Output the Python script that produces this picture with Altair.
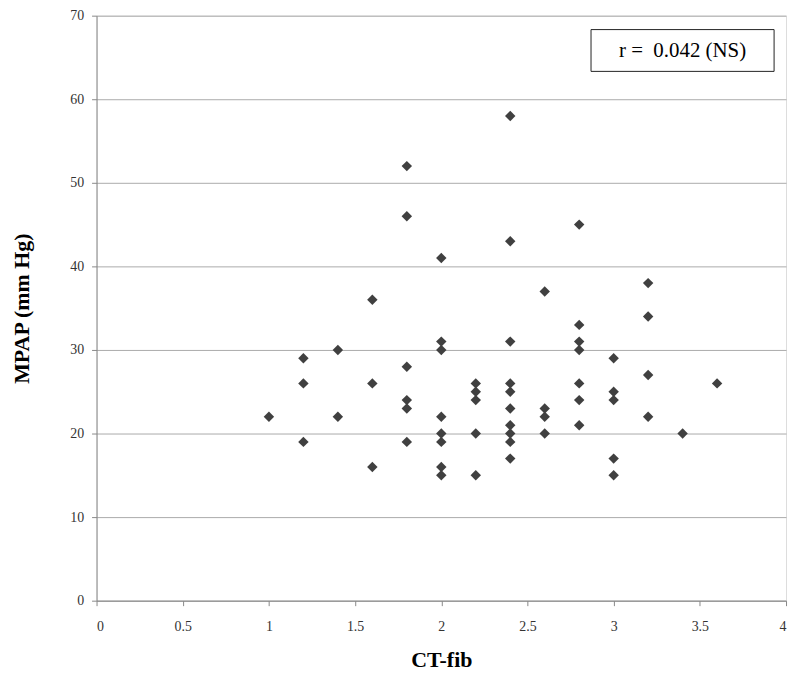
import altair as alt
import pandas as pd

ct_fib = [1.0,
          1.2, 1.2, 1.2,
          1.4, 1.4,
          1.6, 1.6, 1.6,
          1.8, 1.8, 1.8, 1.8, 1.8, 1.8,
          2.0, 2.0, 2.0, 2.0, 2.0, 2.0, 2.0, 2.0,
          2.2, 2.2, 2.2, 2.2, 2.2,
          2.4, 2.4, 2.4, 2.4, 2.4, 2.4, 2.4, 2.4, 2.4, 2.4,
          2.6, 2.6, 2.6, 2.6,
          2.8, 2.8, 2.8, 2.8, 2.8, 2.8, 2.8,
          3.0, 3.0, 3.0, 3.0, 3.0,
          3.2, 3.2, 3.2, 3.2,
          3.4,
          3.6]
mpap = [22,
        29, 26, 19,
        30, 22,
        36, 26, 16,
        52, 46, 28, 24, 23, 19,
        41, 31, 30, 22, 20, 19, 16, 15,
        26, 25, 24, 20, 15,
        58, 43, 31, 26, 25, 23, 21, 20, 19, 17,
        37, 23, 22, 20,
        45, 33, 31, 30, 26, 24, 21,
        29, 25, 24, 17, 15,
        38, 34, 27, 22,
        20,
        26]

x_ticks = [0, 0.5, 1, 1.5, 2, 2.5, 3, 3.5, 4]
y_ticks = [0, 10, 20, 30, 40, 50, 60, 70]
annotation = ["r =\u00a0 0.042 (NS)"]

df = pd.DataFrame({"ct": ct_fib, "mpap": mpap})
FONT = "Liberation Serif"

points = alt.Chart(df).mark_point(
    shape="diamond", filled=True, size=110, color="#404040", opacity=1
).encode(
    x=alt.X("ct:Q", scale=alt.Scale(domain=[0, 4], nice=False),
            axis=alt.Axis(values=x_ticks, title="CT-fib", grid=False,
                          labelExpr="datum.value",
                          domainColor="#888", tickColor="#888", tickSize=5,
                          labelPadding=14, labelFontSize=14, labelColor="#333",
                          labelFont=FONT, titleFont=FONT, titleFontSize=22,
                          titleFontWeight="bold", titleColor="#000",
                          titlePadding=16)),
    y=alt.Y("mpap:Q", scale=alt.Scale(domain=[0, 70], nice=False),
            axis=alt.Axis(values=y_ticks, title="MPAP (mm Hg)", grid=True,
                          gridColor="#aaa", gridWidth=1,
                          domainColor="#888", tickColor="#888", tickSize=5,
                          labelPadding=8, labelFontSize=14, labelColor="#333",
                          labelFont=FONT, titleFont=FONT, titleFontSize=22,
                          titleFontWeight="bold", titleColor="#000",
                          titlePadding=36)),
)

box_df = pd.DataFrame({"label": annotation})
box = alt.Chart(box_df).mark_rect(
    fill="white", stroke="#222", strokeWidth=1
).encode(
    x=alt.value(497), x2=alt.value(681), y=alt.value(14), y2=alt.value(56)
)
txt = alt.Chart(box_df).mark_text(
    font=FONT, fontSize=21, color="#000", align="center", baseline="middle"
).encode(
    x=alt.value(589), y=alt.value(36), text="label:N"
)

chart = alt.layer(points, box, txt).properties(
    width=693, height=588,
    autosize=alt.AutoSizeParams(type="none"),
    padding={"left": 89, "top": 6, "right": 6, "bottom": 72},
).configure_view(stroke=None).configure(background="white")

chart.save("out.html", embed_options={"renderer": "svg", "actions": False})
